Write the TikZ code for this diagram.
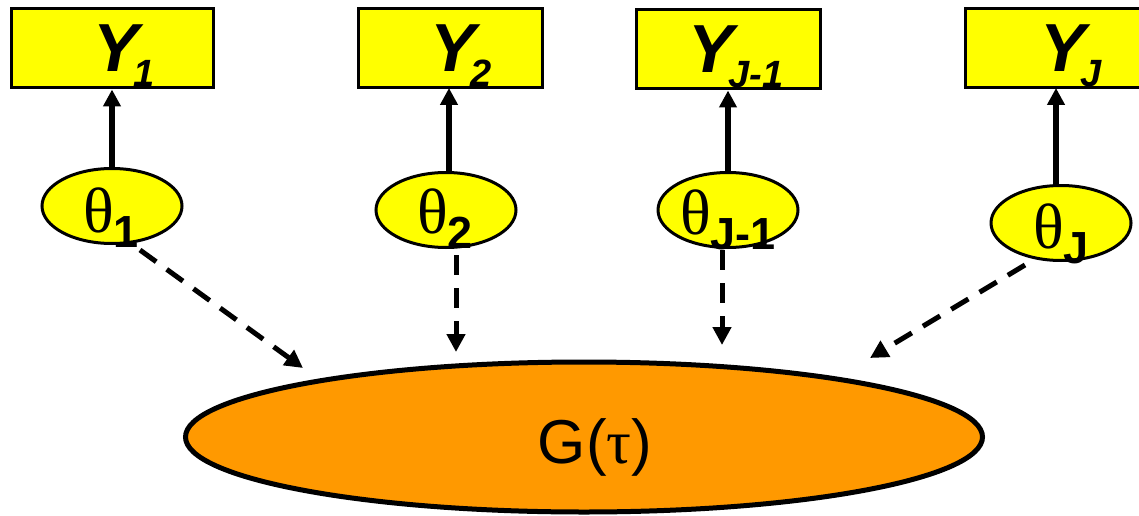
\documentclass[tikz,border=0pt]{standalone}
\usepackage{fontspec}
\setmainfont{Liberation Sans}
\newfontfamily\lsans{Liberation Sans}
\newfontfamily\lserif{Liberation Serif}
\usetikzlibrary{arrows.meta,shapes.geometric,calc}
\definecolor{ybox}{HTML}{FFFF00}
\definecolor{gorange}{HTML}{FF9900}
\newcommand{\ylab}[1]{{\lsans\bfseries\itshape\fontsize{68}{68}\selectfont Y\kern-5pt\raisebox{-15pt}{\fontsize{38}{38}\selectfont #1}}}
\newcommand{\thlab}[1]{{\lserif\fontsize{64}{64}\selectfont θ\raisebox{-15pt}{\lsans\bfseries\fontsize{45}{45}\selectfont #1}}}
\tikzset{
  ybox/.style={draw=black, fill=ybox, line width=3pt, rectangle, inner sep=0pt},
  thell/.style={draw=black, fill=ybox, line width=3pt, ellipse, inner sep=0pt, minimum width=140pt, minimum height=75pt},
  solidarr/.style={line width=5.5pt, -{Triangle[width=17pt,length=17pt]}},
  dasharr/.style={line width=5pt, dash pattern=on 20pt off 13pt, -{Triangle[width=18pt,length=18pt]}},
  lab/.style={anchor=base west, inner sep=0pt},
}
\begin{document}
\begin{tikzpicture}[x=1pt,y=-1pt]
\clip (0,0) rectangle (1139,516);
\fill[white] (0,0) rectangle (1139,516);
% boxes
\node[ybox, minimum width=202pt, minimum height=79pt] (y1) at (112,48.5) {};
\node[ybox, minimum width=184pt, minimum height=79pt] (y2) at (450,48.5) {};
\node[ybox, minimum width=184pt, minimum height=79pt] (yj1) at (728,49.5) {};
\node[ybox, minimum width=184pt, minimum height=79pt] (yj) at (1057,48.5) {};
\node[lab] (y1t) at (93,72) {\ylab{1}};
\node[lab] (y2t) at (430,72) {\ylab{2}};
\node[lab] (yj1t) at (688,73) {\ylab{J-1}};
\node[lab] (yjt) at (1040,72) {\ylab{J}};
% theta ellipses
\node[thell] (t1) at (112,206) {};
\node[thell] (t2) at (446,210) {};
\node[thell] (tj1) at (728,210) {};
\node[thell] (tj) at (1061,223) {};
\node[lab] (t1t) at (83,232) {\thlab{1}};
\node[lab] (t2t) at (417,233) {\thlab{2}};
\node[lab] (tj1t) at (680,234) {\thlab{J-1}};
\node[lab] (tjt) at (1033,248) {\thlab{J}};
% G
\node[draw=black, fill=gorange, line width=5pt, ellipse, inner sep=0pt, minimum width=797pt, minimum height=150pt] (g) at (584,437) {};
\node[inner sep=0pt, anchor=base] (gt) at (595,463) {\fontsize{62}{62}\selectfont G({\lserif τ})};
% solid arrows
\draw[solidarr] (y1.south |- t1.north) -- (y1.south);
\draw[solidarr] (449,172) -- (449,88);
\draw[solidarr] (yj1.south |- tj1.north) -- (yj1.south);
\draw[solidarr] (1056,185) -- (1056,88);
% dashed arrows
\coordinate (e1) at ($(g)+(-281,-69)$);
\coordinate (e2) at ($(g)+(-128,-85)$);
\coordinate (e3) at ($(g)+(138,-92)$);
\coordinate (e4) at ($(g)+(286,-79)$);
\draw[dasharr] ($(t1)+(28,44)$) -- (e1);
\draw[dasharr] ($(t2)+(10,45)$) -- (e2);
\draw[dasharr] ($(tj1)+(-6,40)$) -- (e3);
\draw[dasharr] ($(tj)+(-36,42)$) -- (e4);
\end{tikzpicture}
\end{document}
